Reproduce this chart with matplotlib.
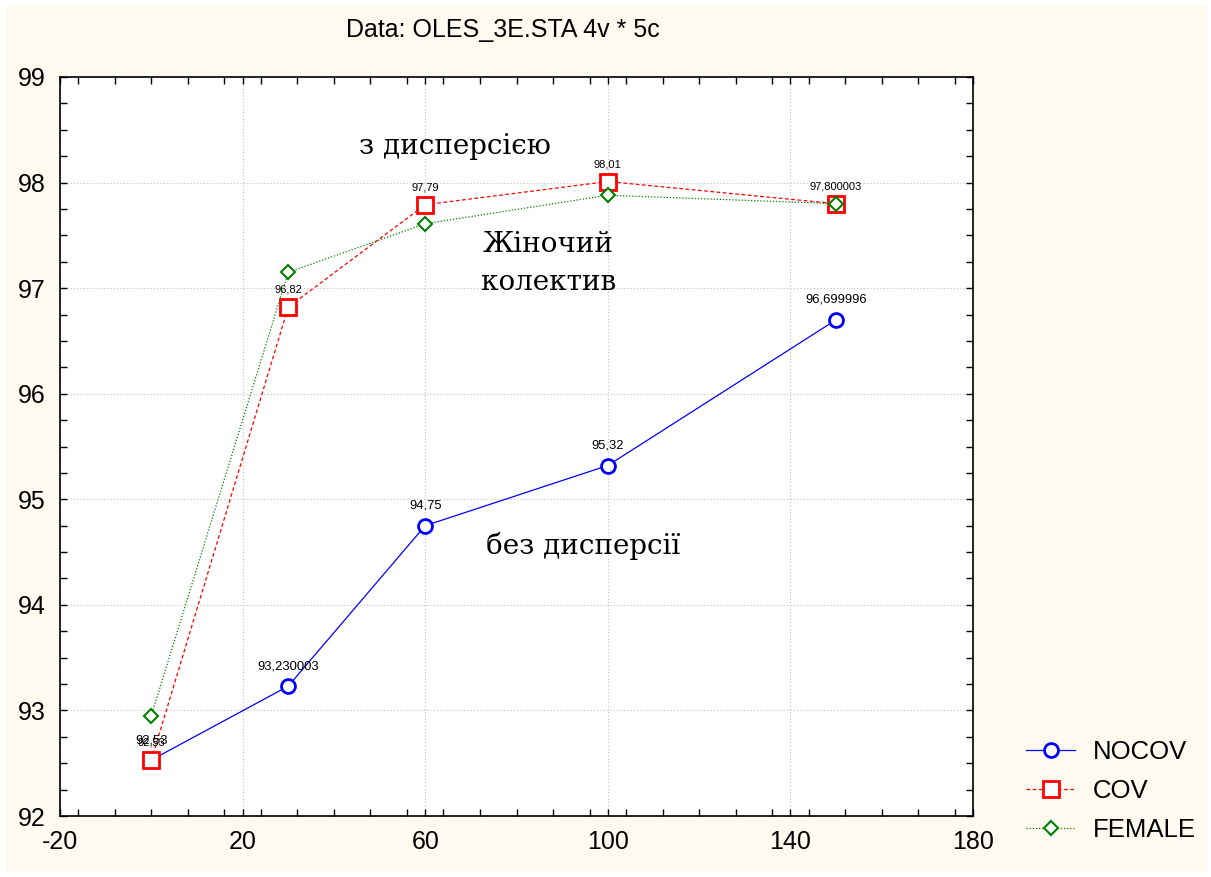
import matplotlib
matplotlib.use('Agg')
import matplotlib.pyplot as plt
from matplotlib.patches import Rectangle
from matplotlib.ticker import MultipleLocator

plt.rcParams['axes.unicode_minus'] = False

x = [0, 30, 60, 100, 150]
nocov = [92.53, 93.230003, 94.75, 95.32, 96.699996]
cov = [92.53, 96.82, 97.79, 98.01, 97.800003]
female = [92.95, 97.15, 97.61, 97.88, 97.80]

nocov_labels = ['92,53', '93,230003', '94,75', '95,32', '96,699996']
cov_labels = ['92,53', '96,82', '97,79', '98,01', '97,800003']

W, H = 1211, 877
fig = plt.figure(figsize=(W / 100, H / 100), dpi=100, facecolor='white')
fig.patches.append(Rectangle((6 / W, 6 / H), (W - 10) / W, (H - 12) / H,
                             transform=fig.transFigure, facecolor='#fefaf0',
                             edgecolor='none', zorder=-10))

ax = fig.add_axes([60 / W, 1 - 816 / H, (973 - 60) / W, (816 - 77) / H])
ax.set_facecolor('white')

ax.plot(x, nocov, color='blue', lw=0.9, ls='-', marker='o', ms=10,
        mfc='white', mec='blue', mew=2, label='NOCOV', zorder=3)
ax.plot(x, cov, color='red', lw=0.9, ls=(0, (3, 2)), marker='s', ms=11,
        mfc='white', mec='red', mew=2, label='COV', zorder=3)
ax.plot(x, female, color='green', lw=0.9, ls=(0, (1, 1.5)), marker='D', ms=7,
        mfc='white', mec='green', mew=1.5, label='FEMALE', zorder=4)

# value labels (the two at x=0 overlap in the original too)
for xi, yi, t in zip(x, nocov, nocov_labels):
    ax.annotate(t, (xi, yi), xytext=(0, 10), textcoords='offset points',
                ha='center', va='bottom', fontsize=9.4, family='Liberation Sans')
for xi, yi, t in zip(x, cov, cov_labels):
    ax.annotate(t, (xi, yi), xytext=(0, 9), textcoords='offset points',
                ha='center', va='bottom', fontsize=8, family='Liberation Sans')

serif = 'DejaVu Serif'
ax.text(66.5, 98.34, 'з дисперсією', ha='center', va='center', fontsize=20, family=serif)
ax.text(87, 97.41, 'Жіночий', ha='center', va='center', fontsize=20, family=serif)
ax.text(87, 97.05, 'колектив', ha='center', va='center', fontsize=20, family=serif)
ax.text(94.6, 94.56, 'без дисперсії', ha='center', va='center', fontsize=20, family=serif)

ax.set_xlim(-20, 180)
ax.set_ylim(92, 99)
ax.set_xticks(range(-20, 181, 40))
ax.xaxis.set_minor_locator(MultipleLocator(8))
ax.yaxis.set_major_locator(MultipleLocator(1))
ax.yaxis.set_minor_locator(MultipleLocator(0.25))
ax.tick_params(which='major', direction='in', length=5, width=1,
               labelsize=18, pad=10, top=True, right=True)
ax.tick_params(which='minor', direction='in', length=5, width=1,
               top=True, right=True)
for lab in ax.get_xticklabels() + ax.get_yticklabels():
    lab.set_family('Liberation Sans')
ax.grid(True, which='major', color='#c0c0c0', ls=(0, (1, 2)), lw=0.8)
for s in ax.spines.values():
    s.set_linewidth(1.2)

fig.text(503 / W, 1 - 30 / H, 'Data: OLES_3E.STA 4v * 5c', ha='center',
         va='center', fontsize=18, family='Liberation Sans')

leg = fig.legend(loc='center left', bbox_to_anchor=(1003 / W, 1 - 791 / H),
                 frameon=False, prop={'family': 'Liberation Sans', 'size': 18.5},
                 handlelength=1.9, labelspacing=0.6, handletextpad=0.7)

fig.savefig('out.png', dpi=100, facecolor=fig.get_facecolor())
